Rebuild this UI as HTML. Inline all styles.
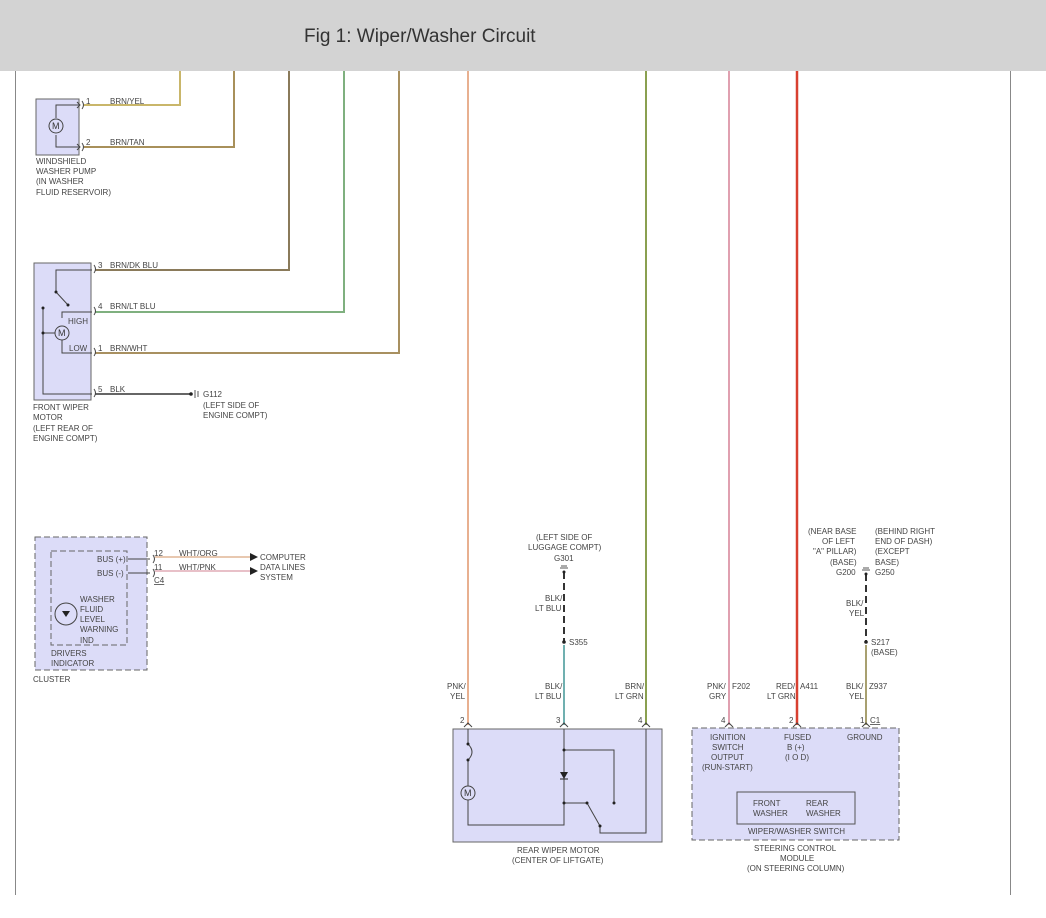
<!DOCTYPE html>
<html><head><meta charset="utf-8"><style>
html,body{margin:0;padding:0;background:#fff;}
svg{display:block;font-family:"Liberation Sans",sans-serif;}
text{font-size:8px;fill:#444;}
</style></head><body>
<svg width="1046" height="918" viewBox="0 0 1046 918" xmlns="http://www.w3.org/2000/svg">
<rect x="0" y="0" width="1046" height="71" fill="#d3d3d3"/>
<text x="304" y="42" style="font-size:19px;fill:#333">Fig 1: Wiper/Washer Circuit</text>
<line x1="15.5" y1="71" x2="15.5" y2="895" stroke="#888"/>
<line x1="1010.5" y1="71" x2="1010.5" y2="895" stroke="#888"/>

<g fill="none" stroke-width="2">
<polyline points="84,105 180,105 180,71" stroke="#c9b66a"/>
<polyline points="84,147 234,147 234,71" stroke="#a8905a"/>
<polyline points="95,270 289,270 289,71" stroke="#8a7a5a"/>
<polyline points="95,312 344,312 344,71" stroke="#7fb07f"/>
<polyline points="95,353 399,353 399,71" stroke="#a89060"/>
<polyline points="95,394 190,394" stroke="#666"/>
<line x1="468" y1="71" x2="468" y2="725" stroke="#e8b090"/>
<line x1="646" y1="71" x2="646" y2="725" stroke="#8aa050"/>
<line x1="729" y1="71" x2="729" y2="725" stroke="#e0a0b0"/>
<line x1="797" y1="71" x2="797" y2="725" stroke="#d84030" stroke-width="2.5"/>
<line x1="564" y1="645" x2="564" y2="725" stroke="#70b0b0"/>
<line x1="866" y1="645" x2="866" y2="725" stroke="#a8a070"/>
<line x1="564" y1="572" x2="564" y2="642" stroke="#333" stroke-dasharray="7,4"/>
<line x1="866" y1="574" x2="866" y2="642" stroke="#333" stroke-dasharray="7,4"/>
<line x1="155" y1="557" x2="250" y2="557" stroke="#e8c8b0"/>
<line x1="155" y1="571" x2="250" y2="571" stroke="#e8c0c8"/>
</g>
<g fill="#222"><polygon points="250,553 258,557 250,561"/><polygon points="250,567 258,571 250,575"/>
<circle cx="564" cy="642" r="1.8"/><circle cx="866" cy="642" r="1.8"/><circle cx="564" cy="572" r="1.5"/><circle cx="866" cy="574" r="1.5"/><circle cx="191" cy="394" r="1.8"/></g>
<g stroke="#555" fill="none"><line x1="560" y1="568" x2="568" y2="568"/><line x1="561" y1="566" x2="567" y2="566"/><line x1="862" y1="570" x2="870" y2="570"/><line x1="863" y1="568" x2="869" y2="568"/>
<line x1="195" y1="390" x2="195" y2="398"/><line x1="198" y1="391" x2="198" y2="397"/></g>

<!-- washer pump -->
<rect x="36" y="99" width="43" height="56" fill="#dcdcf8" stroke="#666"/>
<g stroke="#444" fill="none"><polyline points="56,118 56,105 80,105"/><polyline points="56,135 56,147 80,147"/><circle cx="56" cy="126" r="7" fill="#dcdcf8"/>
<path d="M82,101 q3,4 0,8 M82,143 q3,4 0,8"/><path d="M77,102 l3,3 l-3,3 M77,144 l3,3 l-3,3"/></g>
<text x="52" y="129" style="font-size:9px;fill:#333">M</text>
<text x="86" y="104">1</text><text x="110" y="104">BRN/YEL</text>
<text x="86" y="145">2</text><text x="110" y="145">BRN/TAN</text>
<text x="36" y="164">WINDSHIELD</text><text x="36" y="174">WASHER PUMP</text><text x="36" y="184">(IN WASHER</text><text x="36" y="195">FLUID RESERVOIR)</text>

<!-- front wiper motor -->
<rect x="34" y="263" width="57" height="137" fill="#dcdcf8" stroke="#666"/>
<g stroke="#444" fill="none"><polyline points="56,292 56,270 92,270"/><line x1="56" y1="292" x2="68" y2="305"/><polyline points="62,318 62,312 92,312"/><polyline points="62,335 62,353 92,353"/>
<polyline points="43,308 43,394 92,394"/><line x1="43" y1="333" x2="55" y2="333"/><circle cx="62" cy="333" r="7" fill="#dcdcf8"/>
<path d="M94,265 q3,4 0,8 M94,307 q3,4 0,8 M94,348 q3,4 0,8 M94,389 q3,4 0,8"/></g>
<g fill="#222"><circle cx="56" cy="292" r="1.5"/><circle cx="68" cy="305" r="1.5"/><circle cx="43" cy="308" r="1.5"/><circle cx="43" cy="333" r="1.5"/></g>
<text x="58" y="336" style="font-size:9px;fill:#333">M</text>
<text x="68" y="324">HIGH</text><text x="69" y="351">LOW</text>
<text x="98" y="268">3</text><text x="110" y="268">BRN/DK BLU</text>
<text x="98" y="309">4</text><text x="110" y="309">BRN/LT BLU</text>
<text x="98" y="351">1</text><text x="110" y="351">BRN/WHT</text>
<text x="98" y="392">5</text><text x="110" y="392">BLK</text>
<text x="203" y="397">G112</text><text x="203" y="408">(LEFT SIDE OF</text><text x="203" y="418">ENGINE COMPT)</text>
<text x="33" y="410">FRONT WIPER</text><text x="33" y="420">MOTOR</text><text x="33" y="431">(LEFT REAR OF</text><text x="33" y="441">ENGINE COMPT)</text>

<!-- cluster -->
<rect x="35" y="537" width="112" height="133" fill="#dcdcf8" stroke="#666" stroke-dasharray="6,3"/>
<rect x="51" y="551" width="76" height="94" fill="#dcdcf8" stroke="#666" stroke-dasharray="6,3"/>
<g stroke="#444" fill="none"><polyline points="128,559 150,559"/><polyline points="128,573 150,573"/><circle cx="66" cy="614" r="11"/><path d="M153,555 q3,4 0,8 M153,569 q3,4 0,8"/></g>
<polygon points="62,611 70,611 66,617" fill="#222"/>
<text x="97" y="562">BUS (+)</text><text x="97" y="576">BUS (-)</text>
<text x="80" y="602">WASHER</text><text x="80" y="612">FLUID</text><text x="80" y="622">LEVEL</text><text x="80" y="632">WARNING</text><text x="80" y="643">IND</text>
<text x="51" y="656">DRIVERS</text><text x="51" y="666">INDICATOR</text><text x="33" y="682">CLUSTER</text>
<text x="154" y="556">12</text><text x="179" y="556">WHT/ORG</text><text x="154" y="570">11</text><text x="179" y="570">WHT/PNK</text>
<text x="154" y="583" text-decoration="underline">C4</text>
<text x="260" y="560">COMPUTER</text><text x="260" y="570">DATA LINES</text><text x="260" y="580">SYSTEM</text>

<!-- rear wiper -->
<text x="536" y="540">(LEFT SIDE OF</text><text x="528" y="550">LUGGAGE COMPT)</text><text x="554" y="561">G301</text>
<text x="545" y="601">BLK/</text><text x="535" y="611">LT BLU</text><text x="569" y="645">S355</text>
<text x="447" y="689">PNK/</text><text x="450" y="699">YEL</text>
<text x="545" y="689">BLK/</text><text x="535" y="699">LT BLU</text>
<text x="625" y="689">BRN/</text><text x="615" y="699">LT GRN</text>
<text x="460" y="723">2</text><text x="556" y="723">3</text><text x="638" y="723">4</text>
<rect x="453" y="729" width="209" height="113" fill="#dcdcf8" stroke="#666"/>
<g stroke="#444" fill="none"><polyline points="468,729 468,744"/><path d="M468,744 q8,8 0,16"/><polyline points="468,760 468,786"/><polyline points="468,800 468,825 564,825 564,729"/><polyline points="564,750 614,750 614,803"/><polyline points="564,803 587,803"/><line x1="587" y1="803" x2="600" y2="826"/><polyline points="600,826 600,833 646,833 646,729"/>
<circle cx="468" cy="793" r="7" fill="#dcdcf8"/><path d="M464,727 l4,-4 l4,4 M560,727 l4,-4 l4,4 M642,727 l4,-4 l4,4"/></g>
<polygon points="560,772 568,772 564,779" fill="#222"/><line x1="560" y1="779" x2="568" y2="779" stroke="#222"/>
<g fill="#222"><circle cx="468" cy="744" r="1.5"/><circle cx="468" cy="760" r="1.5"/><circle cx="564" cy="750" r="1.5"/><circle cx="614" cy="803" r="1.5"/><circle cx="564" cy="803" r="1.5"/><circle cx="587" cy="803" r="1.5"/><circle cx="600" cy="826" r="1.5"/></g>
<text x="464" y="796" style="font-size:9px;fill:#333">M</text>
<text x="517" y="853">REAR WIPER MOTOR</text><text x="512" y="863">(CENTER OF LIFTGATE)</text>

<!-- steering module -->
<text x="808" y="534">(NEAR BASE</text><text x="822" y="544">OF LEFT</text><text x="813" y="554">"A" PILLAR)</text><text x="830" y="565">(BASE)</text><text x="836" y="575">G200</text>
<text x="875" y="534">(BEHIND RIGHT</text><text x="875" y="544">END OF DASH)</text><text x="875" y="554">(EXCEPT</text><text x="875" y="565">BASE)</text><text x="875" y="575">G250</text>
<text x="846" y="606">BLK/</text><text x="849" y="616">YEL</text>
<text x="871" y="645">S217</text><text x="871" y="655">(BASE)</text>
<text x="707" y="689">PNK/</text><text x="709" y="699">GRY</text><text x="732" y="689">F202</text>
<text x="776" y="689">RED/</text><text x="767" y="699">LT GRN</text><text x="800" y="689">A411</text>
<text x="846" y="689">BLK/</text><text x="849" y="699">YEL</text><text x="869" y="689">Z937</text>
<text x="721" y="723">4</text><text x="789" y="723">2</text><text x="860" y="723">1</text><text x="870" y="723" text-decoration="underline">C1</text>
<rect x="692" y="728" width="207" height="112" fill="#dcdcf8" stroke="#666" stroke-dasharray="6,3"/>
<g stroke="#444" fill="none"><path d="M725,727 l4,-4 l4,4 M793,727 l4,-4 l4,4 M862,727 l4,-4 l4,4"/></g>
<text x="710" y="740">IGNITION</text><text x="712" y="750">SWITCH</text><text x="711" y="760">OUTPUT</text><text x="702" y="770">(RUN-START)</text>
<text x="784" y="740">FUSED</text><text x="787" y="750">B (+)</text><text x="785" y="760">(I O D)</text>
<text x="847" y="740">GROUND</text>
<rect x="737" y="792" width="118" height="32" fill="#dcdcf8" stroke="#555"/>
<text x="753" y="806">FRONT</text><text x="753" y="816">WASHER</text><text x="806" y="806">REAR</text><text x="806" y="816">WASHER</text>
<text x="748" y="834">WIPER/WASHER SWITCH</text>
<text x="754" y="851">STEERING CONTROL</text><text x="780" y="861">MODULE</text><text x="747" y="871">(ON STEERING COLUMN)</text>
</svg>
</body></html>
